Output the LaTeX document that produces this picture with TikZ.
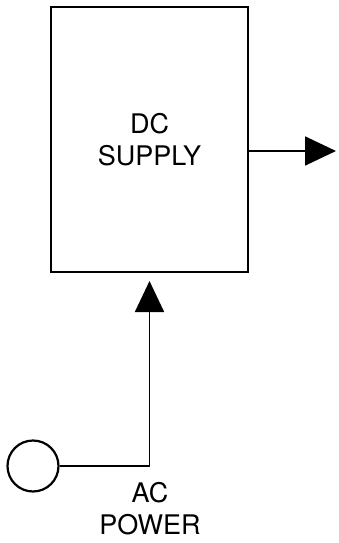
\documentclass[tikz,border=0pt]{standalone}
\usepackage{fontspec}
\setmainfont{TeX Gyre Heros}
\usetikzlibrary{arrows.meta}
\begin{document}
\begin{tikzpicture}[x=1pt,y=-1pt,
  wire/.style={line width=1.8pt},
  tip/.style={-{Triangle[length=31pt,width=29pt]}},
  lbl/.style={align=center,font=\fontsize{27}{32}\selectfont}]
  \useasboundingbox (0,0) rectangle (338,543);
  % power supply block
  \node[draw,line width=2pt,minimum width=197pt,minimum height=265pt,
        inner sep=0pt,lbl] (dc) at (149.5,139.5) {DC\\SUPPLY};
  % mains input
  \node[draw,circle,line width=2.2pt,minimum size=51pt,inner sep=0pt] (ac) at (33,466) {};
  \node[lbl] (aclbl) at (150,509) {AC\\POWER};
  \coordinate (out) at (336,151);
  % connectors
  \draw[wire,tip,shorten >=8pt] (ac.east) -| (dc.south);
  \draw[wire,tip] (dc.east |- out) -- (out);
\end{tikzpicture}
\end{document}
